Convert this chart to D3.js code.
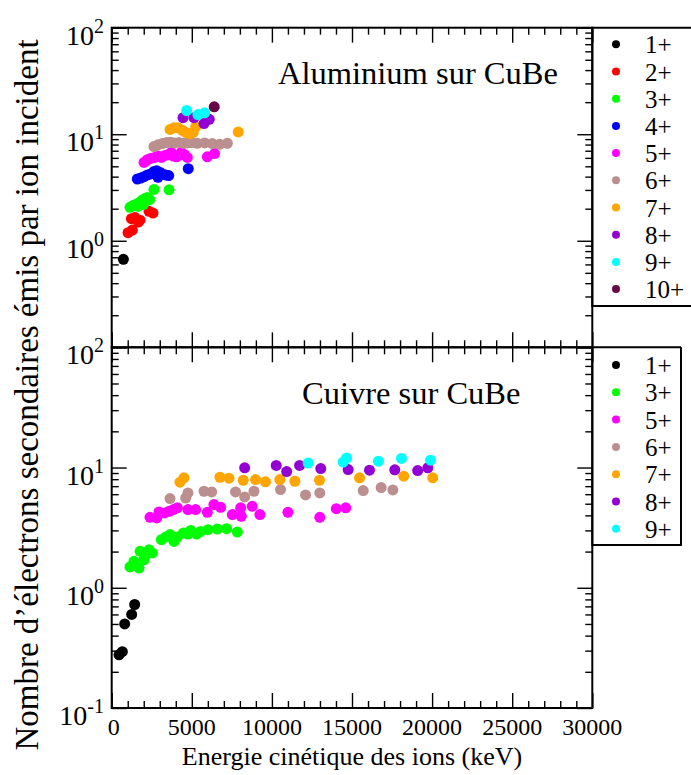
<!DOCTYPE html>
<html>
<head>
<meta charset="utf-8">
<script src="https://cdn.jsdelivr.net/npm/d3@7"></script>
<style>
  html, body { margin: 0; padding: 0; background: #fff; }
  svg { display: block; }
</style>
</head>
<body>
<svg id="chart" width="691" height="775"></svg>
<script>
// ---------- DATA ----------
// Aluminium sur CuBe : [energy keV, electrons per ion]
const al1 = [[730, 0.67]];
const al2 = [[1020, 1.19], [1290, 1.26], [1230, 1.61], [1455, 1.65], [1660, 1.50], [1770, 1.56], [2330, 1.89], [2580, 1.82]];
const al3 = [[1140, 2.06], [1350, 2.15], [1520, 2.19], [1660, 2.26], [1810, 2.32], [1930, 2.43], [2080, 2.49], [2225, 2.55], [2370, 2.43], [1975, 2.19], [1640, 2.10], [2640, 3.03], [3580, 3.01]];
const al4 = [[1600, 3.80], [1810, 3.88], [2020, 4.00], [2225, 4.15], [2430, 4.24], [2640, 4.48], [2810, 4.55], [3020, 4.38], [2890, 3.94], [3160, 4.24], [3370, 4.15], [3555, 4.09], [4780, 4.75]];
const al5 = [[2020, 5.44], [2225, 5.76], [2430, 5.93], [2680, 6.05], [2890, 6.24], [3100, 6.05], [3310, 6.33], [3510, 6.42], [3720, 6.75], [3850, 6.24], [4050, 6.14], [4345, 6.75], [4550, 6.42], [4720, 6.05], [5970, 6.14], [6420, 6.59]];
const al6 = [[2640, 7.67], [2890, 7.95], [3160, 8.17], [3430, 8.35], [3680, 8.41], [3930, 8.29], [4200, 8.35], [4470, 8.23], [4720, 8.29], [4970, 8.35], [5340, 8.23], [5800, 8.29], [6280, 8.17], [6740, 8.05], [7220, 8.23]];
const al7 = [[3640, 11.1], [3890, 11.5], [4140, 11.5], [4410, 10.9], [4620, 10.4], [4870, 10.1], [5090, 10.4], [5240, 11.7], [7900, 10.5]];
const al8 = [[4450, 14.3], [5135, 14.3], [5760, 12.6], [6090, 13.8]];
const al9 = [[4680, 16.7], [5380, 15.3], [5800, 15.9]];
const al10 = [[6400, 18.1]];

// Cuivre sur CuBe
const cu1 = [[457, 0.277], [665, 0.294], [811, 0.50], [1247, 0.60], [1435, 0.726]];
const cu3 = [[1140, 1.49], [1390, 1.66], [1705, 1.46], [1770, 2.01], [2020, 1.71], [2120, 1.88], [2330, 2.07], [2540, 1.95], [3100, 2.51], [3370, 2.64], [3640, 2.77], [3890, 2.43], [4100, 2.64], [4470, 2.85], [4760, 2.80], [4930, 3.00], [5300, 2.80], [5550, 2.94], [6010, 3.04], [6590, 3.08], [7170, 3.10], [7840, 2.91]];
const cu5 = [[2390, 3.85], [2810, 3.81], [2950, 4.27], [3310, 4.19], [3580, 4.32], [3850, 4.47], [4100, 4.62], [4760, 4.47], [5240, 4.47], [5970, 4.24], [6380, 4.92], [6800, 4.67], [7530, 4.06], [8050, 4.62], [8090, 3.93], [8770, 4.76], [9250, 4.06], [11000, 4.24], [12990, 3.85], [14020, 4.55], [14610, 4.62]];
const cu6 = [[3640, 5.52], [4620, 5.58], [4760, 6.15], [5760, 6.35], [6240, 6.27], [7730, 6.27], [8300, 5.70], [8880, 6.35], [10540, 6.56], [12100, 5.92], [12990, 6.15], [15700, 6.43], [16820, 6.81], [17550, 6.51]];
const cu7 = [[4260, 7.55], [4510, 8.21], [6760, 8.30], [7320, 8.15], [8210, 7.84], [8980, 7.94], [9600, 7.60], [10500, 7.94], [11430, 7.69], [12970, 7.84], [15470, 8.21], [18230, 8.47], [20040, 8.21]];
const cu8 = [[8300, 9.94], [10270, 10.4], [10920, 9.26], [11730, 10.4], [13050, 9.81], [14760, 9.62], [16090, 9.51], [17670, 9.57], [19100, 9.44], [19730, 9.94]];
const cu9 = [[12260, 10.9], [14450, 11.1], [14660, 12.0], [16650, 11.3], [18090, 11.9], [19900, 11.5]];

const alLabels = ["1+", "2+", "3+", "4+", "5+", "6+", "7+", "8+", "9+", "10+"];
const cuLabels = ["1+", "3+", "5+", "6+", "7+", "8+", "9+"];
const alColors = ["#000000", "#ff0000", "#00ff00", "#0000ff", "#ff00ff", "#bc8f8f", "#ffa500", "#9400d3", "#00ffff", "#670748"];
const cuColors = ["#000000", "#00ff00", "#ff00ff", "#bc8f8f", "#ffa500", "#9400d3", "#00ffff"];

const xTickValues = [0, 5000, 10000, 15000, 20000, 25000, 30000];
const yExponents = [-1, 0, 1, 2];
const xTitle = "Energie cinétique des ions (keV)";
const yTitle = "Nombre d\u2019électrons secondaires émis par ion incident";
const alTitle = "Aluminium sur CuBe";
const cuTitle = "Cuivre sur CuBe";

// ---------- LAYOUT ----------
const FONT = "'Liberation Serif', 'Times New Roman', serif";
const svg = d3.select("#chart");
const left = 111.7, right = 592.3;
const x = d3.scaleLinear().domain([0, 30000]).range([left, right]);
const panels = [
  { series: [al1, al2, al3, al4, al5, al6, al7, al8, al9, al10], labels: alLabels, colors: alColors,
    y: d3.scaleLog().domain([0.1, 100]).range([347.3, 27.7]), title: alTitle, tx: 278, ty: 84,
    labelExps: [0, 1, 2], legend: { x0: 592.3, x1: 705, y0: 27.7, y1: 306, first: 44.3, step: 27.2 } },
  { series: [cu1, cu3, cu5, cu6, cu7, cu8, cu9], labels: cuLabels, colors: cuColors,
    y: d3.scaleLog().domain([0.1, 100]).range([708, 347.3]), title: cuTitle, tx: 302, ty: 404,
    labelExps: [-1, 0, 1, 2], legend: { x0: 592.3, x1: 681, y0: 347.3, y1: 545, first: 365, step: 27.3 } }
];

const majorX = d3.range(0, 30001, 5000);
const minorX = d3.range(0, 30001, 1000).filter(v => v % 5000 !== 0);
const majorY = yExponents.map(e => Math.pow(10, e));
const minorY = [];
[0.1, 1, 10].forEach(d => { for (let k = 2; k <= 9; k++) minorY.push(k * d); });

function styleAxis(g) {
  g.select(".domain").remove();
  g.selectAll("line").attr("stroke", "#000").attr("stroke-width", 1.4);
  g.selectAll("text").remove();
}
function txt(sel) { return sel.style("font-family", FONT).attr("fill", "#000"); }

panels.forEach(p => {
  const y = p.y;
  const top = y.range()[1], bottom = y.range()[0];
  const g = svg.append("g");

  const mk = (axisFn, scale, vals, size, tr) => {
    g.append("g").attr("transform", tr)
      .call(axisFn(scale).tickValues(vals).tickSize(size).tickFormat(""))
      .call(styleAxis);
  };
  mk(d3.axisBottom, x, majorX, -15, `translate(0,${bottom})`);
  mk(d3.axisBottom, x, minorX, -7, `translate(0,${bottom})`);
  mk(d3.axisTop, x, majorX, -15, `translate(0,${top})`);
  mk(d3.axisTop, x, minorX, -7, `translate(0,${top})`);
  mk(d3.axisLeft, y, majorY, -15, `translate(${left},0)`);
  mk(d3.axisLeft, y, minorY, -7, `translate(${left},0)`);
  mk(d3.axisRight, y, majorY, -15, `translate(${right},0)`);
  mk(d3.axisRight, y, minorY, -7, `translate(${right},0)`);

  g.append("rect").attr("x", left).attr("y", top).attr("width", right - left).attr("height", bottom - top)
    .attr("fill", "none").attr("stroke", "#000").attr("stroke-width", 2);

  p.labelExps.forEach(e => {
    const yy = y(Math.pow(10, e));
    const t = g.append("text").attr("x", 104).attr("y", yy + 17).attr("text-anchor", "end")
      .attr("font-size", 28).call(txt);
    t.append("tspan").text("10");
    t.append("tspan").attr("font-size", 20).attr("dy", -12).text(String(e));
  });

  p.series.forEach((s, i) => {
    g.append("g").selectAll("circle").data(s).join("circle")
      .attr("cx", d => x(d[0])).attr("cy", d => y(d[1])).attr("r", 5.5)
      .attr("fill", p.colors[i]);
  });

  g.append("text").attr("x", p.tx).attr("y", p.ty).attr("font-size", 32.5).call(txt).text(p.title);

  const L = p.legend;
  g.append("path").attr("d", `M${L.x1},${L.y0}H${L.x0}V${L.y1}H${L.x1}` + (L.x1 < 691 ? `V${L.y0}` : ""))
    .attr("fill", "none").attr("stroke", "#000").attr("stroke-width", 2);
  p.labels.forEach((lab, i) => {
    const cy = L.first + i * L.step;
    g.append("circle").attr("cx", 616).attr("cy", cy).attr("r", 4).attr("fill", p.colors[i]);
    g.append("text").attr("x", 645).attr("y", cy + 9).attr("font-size", 25).call(txt).text(lab);
  });
});

svg.append("g").selectAll("text").data(xTickValues).join("text")
  .attr("x", d => x(d) + (d === 0 ? 2 : 0)).attr("y", 735).attr("text-anchor", "middle")
  .attr("font-size", 24).call(txt).text(d => d);

svg.append("text").attr("x", 352).attr("y", 765).attr("text-anchor", "middle")
  .attr("font-size", 26).call(txt).text(xTitle);
svg.append("text").attr("transform", "translate(38,395) rotate(-90)").attr("text-anchor", "middle")
  .attr("font-size", 33).call(txt).text(yTitle);
</script>
</body>
</html>
